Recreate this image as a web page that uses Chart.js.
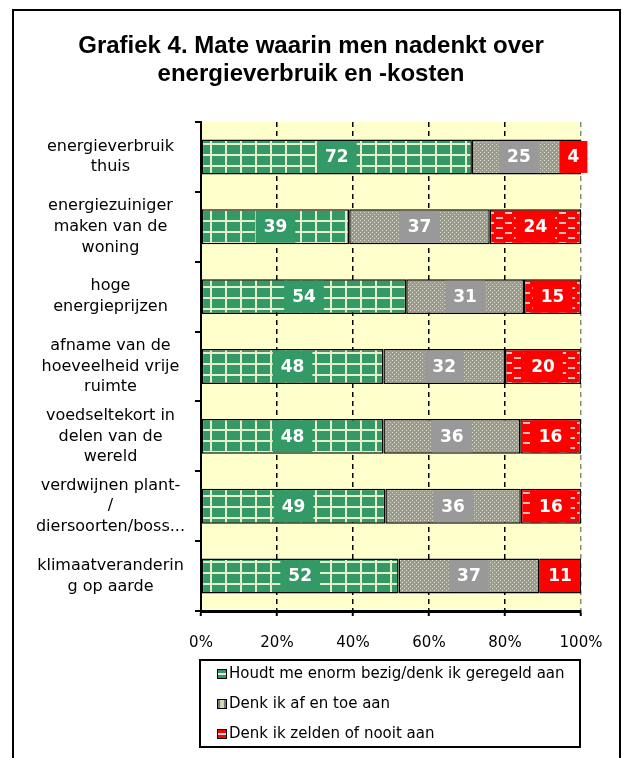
<!DOCTYPE html>
<html>
<head>
<meta charset="utf-8">
<script src="https://cdn.jsdelivr.net/npm/chart.js@4"></script>
<style>
  body { margin: 0; background: #fff; }
  #wrap { position: relative; width: 622px; height: 758px; }
  #frame { position: absolute; left: 12px; top: 9px; width: 609px; height: 770px; border: 2px solid #000; border-bottom: none; box-sizing: border-box; pointer-events: none; }
  #title { position: absolute; left: 0; top: 31px; width: 622px; text-align: center; font: bold 24px/28px "Liberation Sans", sans-serif; color: #000; }
  #legend { position: absolute; left: 199px; top: 659px; width: 382px; height: 89px; border: 2px solid #000; box-sizing: border-box; background: #fff;
    font-family: "DejaVu Sans", sans-serif; font-size: 15px; color: #000; }
  #legend div { height: 30px; line-height: 30px; padding-left: 16px; position: relative; top: -3px; white-space: nowrap; }
  #legend span.sw { display: inline-block; width: 8px; height: 8px; border: 1px solid #000; margin-right: 2px; vertical-align: -1px; }
</style>
</head>
<body>
<div id="wrap">
  <canvas id="chart" width="622" height="758"></canvas>
  <div id="frame"></div>
  <div id="title"></div>
  <div id="legend"></div>
</div>
<script>
// Données du graphique
const categories = [
  ["energieverbruik", "thuis"],
  ["energiezuiniger", "maken van de", "woning"],
  ["hoge", "energieprijzen"],
  ["afname van de", "hoeveelheid vrije", "ruimte"],
  ["voedseltekort in", "delen van de", "wereld"],
  ["verdwijnen plant-", "/", "diersoorten/boss..."],
  ["klimaatveranderin", "g op aarde"]
];
const seriesNames = [
  "Houdt me enorm bezig/denk ik geregeld aan",
  "Denk ik af en toe aan",
  "Denk ik zelden of nooit aan"
];
const geregeld = [72, 39, 54, 48, 48, 49, 52];
const afEnToe = [25, 37, 31, 32, 36, 36, 37];
const zelden = [4, 24, 15, 20, 16, 16, 11];
const xTicks = [0, 20, 40, 60, 80, 100];

const title = ["Grafiek 4. Mate waarin men nadenkt over", "energieverbruik en -kosten"];

// Titre
const titleEl = document.getElementById("title");
title.forEach((line) => {
  const d = document.createElement("div");
  d.textContent = line;
  titleEl.appendChild(d);
});

// Motifs des barres
function makePattern(w, h, bg, draw) {
  const c = document.createElement("canvas");
  c.width = w; c.height = h;
  const g = c.getContext("2d");
  g.fillStyle = bg;
  g.fillRect(0, 0, w, h);
  draw(g);
  return document.getElementById("chart").getContext("2d").createPattern(c, "repeat");
}

const greenPattern = makePattern(15, 11, "#339966", (g) => {
  g.fillStyle = "#e6f0c8";
  g.fillRect(0, 0, 2, 11);
  g.fillRect(0, 0, 15, 2);
});
const grayPattern = makePattern(4, 4, "#9a9a9a", (g) => {
  g.fillStyle = "#dcdcc0";
  g.fillRect(0, 0, 1, 1);
  g.fillRect(2, 2, 1, 1);
});
const redPattern = makePattern(18, 10, "#ff0000", (g) => {
  g.fillStyle = "#ffc0c0";
  g.fillRect(1, 2, 7, 2);
  g.fillRect(10, 7, 7, 2);
});

// Normalisation en 100 %
const rows = [geregeld, afEnToe, zelden];
const totals = categories.map((_, i) => rows.reduce((s, r) => s + r[i], 0));
const pct = (arr) => arr.map((v, i) => v / totals[i] * 100);

const seriesFill = [greenPattern, grayPattern, redPattern];
const seriesSolid = ["#339966", "#999999", "#ff0000"];

const datasets = rows.map((r, k) => ({
  label: seriesNames[k],
  data: pct(r),
  raw: r,
  labelBg: seriesSolid[k],
  backgroundColor: seriesFill[k],
  borderColor: "#000",
  borderWidth: 1.5,
  borderSkipped: false,
  barPercentage: 0.5,
  categoryPercentage: 1
}));

// Fond jaune de la zone de tracé
const plotBg = {
  id: "plotBg",
  beforeDraw(chart) {
    const { ctx, chartArea: a } = chart;
    ctx.save();
    ctx.fillStyle = "#ffffcc";
    ctx.fillRect(a.left, a.top, a.right - a.left, a.bottom - a.top);
    ctx.restore();
  }
};

// Étiquettes des valeurs avec fond plein
const barLabels = {
  id: "barLabels",
  afterDatasetsDraw(chart) {
    const ctx = chart.ctx;
    ctx.save();
    ctx.font = 'bold 17px "DejaVu Sans", sans-serif';
    ctx.textAlign = "center";
    ctx.textBaseline = "middle";
    chart.data.datasets.forEach((ds, di) => {
      chart.getDatasetMeta(di).data.forEach((bar, i) => {
        const txt = String(ds.raw[i]);
        const cx = (bar.x + bar.base) / 2;
        const w = ctx.measureText(txt).width + 16;
        const h = bar.height - 3;
        ctx.fillStyle = ds.labelBg;
        ctx.fillRect(cx - w / 2, bar.y - h / 2, w, h);
        ctx.fillStyle = "#fff";
        ctx.fillText(txt, cx, bar.y + 1);
      });
    });
    ctx.restore();
  }
};

new Chart(document.getElementById("chart"), {
  type: "bar",
  data: { labels: categories, datasets: datasets },
  options: {
    indexAxis: "y",
    responsive: false,
    animation: false,
    layout: { padding: { left: 0, right: 41, top: 122, bottom: 0 } },
    plugins: {
      legend: { display: false },
      tooltip: { enabled: false },
      title: { display: false }
    },
    scales: {
      x: {
        stacked: true,
        min: 0,
        max: 100,
        afterBuildTicks: (s) => { s.ticks = xTicks.map((v) => ({ value: v })); },
        afterFit: (s) => { s.height = 147; },
        ticks: {
          callback: (v) => v + "%",
          color: "#000",
          padding: 18,
          maxRotation: 0,
          font: { family: '"DejaVu Sans", sans-serif', size: 15 }
        },
        grid: {
          color: (c) => (c.tick && c.tick.value === 100 ? "#888" : (c.tick && c.tick.value === 0 ? "rgba(0,0,0,0)" : "#000")),
          lineWidth: 1.5,
          tickColor: "#000",
          tickLength: 5,
          tickWidth: 2,
          tickBorderDash: []
        },
        border: { color: "#000", width: 3, dash: [5, 4] }
      },
      y: {
        stacked: true,
        afterFit: (s) => { s.width = 201; },
        ticks: {
          crossAlign: "center",
          padding: 10,
          color: "#000",
          font: { family: '"DejaVu Sans", sans-serif', size: 16, lineHeight: 1.3 }
        },
        grid: {
          offset: true,
          drawOnChartArea: false,
          color: "#000",
          lineWidth: 2,
          tickLength: 6
        },
        border: { color: "#000", width: 2 }
      }
    }
  },
  plugins: [plotBg, barLabels]
});

// Légende HTML
const swatchBg = [
  "linear-gradient(#339966 35%, #e6f0c8 35%, #e6f0c8 62%, #339966 62%)",
  "linear-gradient(90deg, #777 25%, #d6d6b8 25%, #d6d6b8 75%, #777 75%)",
  "linear-gradient(#ff0000 35%, #ffd0d0 35%, #ffd0d0 62%, #ff0000 62%)"
];
const legend = document.getElementById("legend");
seriesNames.forEach((name, k) => {
  const row = document.createElement("div");
  const sw = document.createElement("span");
  sw.className = "sw";
  sw.style.background = swatchBg[k];
  row.appendChild(sw);
  row.appendChild(document.createTextNode(name));
  legend.appendChild(row);
});
</script>
</body>
</html>
